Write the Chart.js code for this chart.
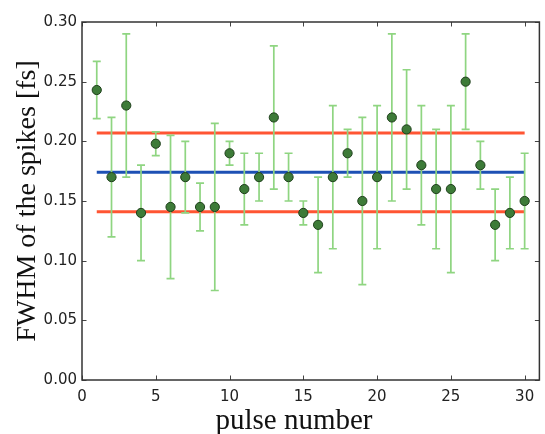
<!DOCTYPE html>
<html>
<head>
<meta charset="utf-8">
<script src="https://cdn.jsdelivr.net/npm/chart.js@4/dist/chart.umd.min.js"></script>
<style>
  html, body { margin: 0; padding: 0; background: #fff; }
  #wrap { width: 545px; height: 434px; }
</style>
</head>
<body>
<div id="wrap"><canvas id="c" width="545" height="434"></canvas></div>
<script>
// ---- data ----
const pulses = [1,2,3,4,5,6,7,8,9,10,11,12,13,14,15,16,17,18,19,20,21,22,23,24,25,26,27,28,29,30];
const fwhm   = [0.243,0.17,0.23,0.14,0.198,0.145,0.17,0.145,0.145,0.19,0.16,0.17,0.22,0.17,0.14,0.13,0.17,0.19,0.15,0.17,0.22,0.21,0.18,0.16,0.16,0.25,0.18,0.13,0.14,0.15];
const errTop = [0.267,0.22,0.29,0.18,0.208,0.205,0.20,0.165,0.215,0.20,0.19,0.19,0.28,0.19,0.15,0.17,0.23,0.21,0.22,0.23,0.29,0.26,0.23,0.21,0.23,0.29,0.20,0.16,0.17,0.19];
const errBottom = [0.219,0.12,0.17,0.10,0.188,0.085,0.14,0.125,0.075,0.18,0.13,0.15,0.16,0.15,0.13,0.09,0.11,0.17,0.08,0.11,0.15,0.16,0.13,0.11,0.09,0.21,0.16,0.10,0.11,0.11];
const meanValue = 0.174;
const bandUpper = 0.207;
const bandLower = 0.141;
const lineStart = 1;
const lineEnd = 30;
const xTickValues = [0,5,10,15,20,25,30];
const yTickValues = [0.00,0.05,0.10,0.15,0.20,0.25,0.30];
const xTitle = 'pulse number';
const yTitle = 'FWHM of the spikes [fs]';

const hLine = (v) => [{x: lineStart, y: v}, {x: lineEnd, y: v}];

const errorBars = {
  id: 'errorBars',
  beforeDatasetDraw(chart, args) {
    if (args.index !== 0) return;
    const {ctx, scales: {x, y}} = chart;
    ctx.save();
    ctx.strokeStyle = '#8fd581';
    ctx.lineWidth = 1.7;
    const cap = 4;
    pulses.forEach((p, i) => {
      const px = x.getPixelForValue(p);
      const yt = y.getPixelForValue(errTop[i]);
      const yb = y.getPixelForValue(errBottom[i]);
      ctx.beginPath();
      ctx.moveTo(px, yt); ctx.lineTo(px, yb);
      ctx.moveTo(px - cap, yt); ctx.lineTo(px + cap, yt);
      ctx.moveTo(px - cap, yb); ctx.lineTo(px + cap, yb);
      ctx.stroke();
    });
    ctx.restore();
  }
};

const frame = {
  id: 'frame',
  afterDraw(chart) {
    const {ctx, chartArea: a, scales: {x, y}} = chart;
    ctx.save();
    ctx.strokeStyle = '#444';
    ctx.lineWidth = 1;
    const L = 4.5;
    ctx.beginPath();
    xTickValues.forEach(v => {
      const px = Math.round(x.getPixelForValue(v)) + 0.5;
      ctx.moveTo(px, a.bottom); ctx.lineTo(px, a.bottom - L);
      ctx.moveTo(px, a.top); ctx.lineTo(px, a.top + L);
    });
    yTickValues.forEach(v => {
      const py = Math.round(y.getPixelForValue(v)) + 0.5;
      ctx.moveTo(a.left, py); ctx.lineTo(a.left + L, py);
      ctx.moveTo(a.right, py); ctx.lineTo(a.right - L, py);
    });
    ctx.stroke();
    ctx.lineWidth = 1.5;
    ctx.strokeStyle = '#333';
    ctx.strokeRect(a.left, a.top, a.right - a.left, a.bottom - a.top);
    // x-axis title, placed as in the reference (slightly left of centre)
    ctx.fillStyle = '#111';
    ctx.font = '29px "Liberation Serif"';
    ctx.textAlign = 'center';
    ctx.textBaseline = 'alphabetic';
    ctx.fillText(xTitle, 294, 429);
    ctx.restore();
  }
};

new Chart(document.getElementById('c'), {
  type: 'scatter',
  data: {
    datasets: [
      {
        label: 'FWHM',
        data: pulses.map((p, i) => ({x: p, y: fwhm[i]})),
        pointRadius: 4.6,
        pointBackgroundColor: '#3d7b38',
        pointBorderColor: '#1f3f1c',
        pointBorderWidth: 1,
        showLine: false,
        order: 0
      },
      {
        label: 'upper',
        data: hLine(bandUpper),
        showLine: true,
        borderColor: '#ff5533',
        borderWidth: 3,
        pointRadius: 0,
        order: 1
      },
      {
        label: 'mean',
        data: hLine(meanValue),
        showLine: true,
        borderColor: '#1d50b4',
        borderWidth: 3,
        pointRadius: 0,
        order: 1
      },
      {
        label: 'lower',
        data: hLine(bandLower),
        showLine: true,
        borderColor: '#ff5533',
        borderWidth: 3,
        pointRadius: 0,
        order: 1
      }
    ]
  },
  options: {
    responsive: false,
    animation: false,
    devicePixelRatio: 1,
    layout: { padding: { top: 22, right: 2, left: 0, bottom: 0 } },
    plugins: { legend: { display: false }, tooltip: { enabled: false } },
    scales: {
      x: {
        type: 'linear',
        min: 0, max: 31,
        afterBuildTicks: (s) => { s.ticks = xTickValues.map(v => ({value: v})); },
        afterFit: (s) => { s.height = 54; },
        grid: { display: false, drawTicks: false },
        border: { display: false },
        ticks: {
          padding: 8,
          color: '#222',
          font: { family: 'DejaVu Sans', size: 15 },
          callback: (v) => String(v)
        },
        title: { display: false }
      },
      y: {
        type: 'linear',
        min: 0, max: 0.30,
        afterBuildTicks: (s) => { s.ticks = yTickValues.map(v => ({value: v})); },
        afterFit: (s) => { s.width = 82; },
        grid: { display: false, drawTicks: false },
        border: { display: false },
        ticks: {
          padding: 5,
          color: '#222',
          font: { family: 'DejaVu Sans', size: 15 },
          callback: (v) => Number(v).toFixed(2)
        },
        title: {
          display: true,
          text: yTitle,
          color: '#111',
          font: { family: 'Liberation Serif', size: 28 },
          padding: { top: 11, bottom: 0 }
        }
      }
    }
  },
  plugins: [errorBars, frame]
});
</script>
</body>
</html>
